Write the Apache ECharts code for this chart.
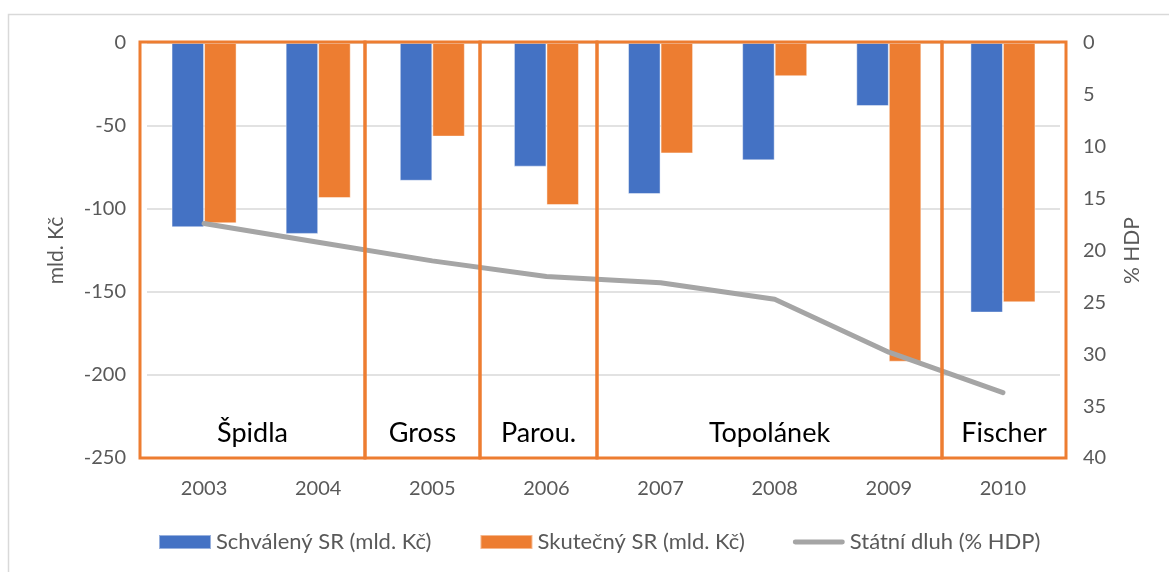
<!DOCTYPE html>
<html>
<head>
<meta charset="utf-8">
<script src="https://cdn.jsdelivr.net/npm/echarts@6/dist/echarts.min.js"></script>
<style>
  html, body { margin: 0; padding: 0; background: #fff; }
  #chart { width: 1169px; height: 572px; }
</style>
</head>
<body>
<div id="chart"></div>
<script>
// years on the category axis
var years = ['2003', '2004', '2005', '2006', '2007', '2008', '2009', '2010'];
// approved and actual state budget balance (bn CZK)
var schvaleny = [-111, -115, -83, -74.5, -91, -70.7, -38, -162.4];
var skutecny = [-108.6, -93.4, -56.4, -97.6, -66.5, -20, -192, -156.2];
// state debt, % of GDP
var dluh = [17.4, 19.2, 21.0, 22.5, 23.1, 24.7, 29.8, 33.7];
// governments (label, box left/right edge in px)
var vlady = ['Špidla', 'Gross', 'Parou.', 'Topolánek', 'Fischer'];
var vladyHrany = [140, 365, 480, 597, 942, 1066];

var FONT = 'Lato, "Open Sans", sans-serif';
var GREY = '#595959';

var chart = echarts.init(document.getElementById('chart'));

function buildGraphic() {
    let items = [{
        type: 'rect',
        shape: { x: 8.5, y: 14.5, width: 1200, height: 600 },
        style: { fill: 'none', stroke: '#D9D9D9', lineWidth: 1.5 },
        z: 0, silent: true
    }];
    for (let i = 0; i < vlady.length; i++) {
        let x0 = vladyHrany[i], x1 = vladyHrany[i + 1];
        items.push({
            type: 'rect',
            shape: { x: x0, y: 42, width: x1 - x0, height: 416 },
            style: { fill: 'none', stroke: '#ED7D31', lineWidth: 3 },
            z: 100, silent: true
        });
        items.push({
            type: 'text',
            x: (x0 + x1) / 2, y: 433,
            style: {
                text: vlady[i], fill: '#000', font: '27px ' + FONT,
                align: 'center', verticalAlign: 'middle'
            },
            z: 101, silent: true
        });
    }
    return items;
}

var option = {
    animation: false,
    backgroundColor: '#fff',
    textStyle: { fontFamily: FONT },
    grid: { left: 147, right: 109, top: 43, bottom: 114 },
    legend: {
        left: 158, top: 531, padding: 0,
        itemWidth: 52, itemHeight: 14, itemGap: 48,
        textStyle: { fontSize: 22, color: GREY, fontFamily: FONT },
        data: [
            { name: 'Schválený SR (mld. Kč)', icon: 'rect' },
            { name: 'Skutečný SR (mld. Kč)', icon: 'rect' },
            { name: 'Státní dluh (% HDP)', icon: 'path://M2,0 L50,0 A2.5,2.5 0 0 1 50,5 L2,5 A2.5,2.5 0 0 1 2,0 Z' }
        ]
    },
    xAxis: {
        type: 'category',
        data: years,
        axisLine: { show: false },
        axisTick: { show: false },
        axisLabel: { fontSize: 20, color: GREY, margin: 21 }
    },
    yAxis: [{
        type: 'value',
        min: -250, max: 0, interval: 50,
        name: 'mld. Kč',
        nameLocation: 'middle', nameGap: 80,
        nameTextStyle: { fontSize: 21, color: GREY },
        axisLine: { show: false },
        axisTick: { show: false },
        axisLabel: { fontSize: 20, color: GREY, margin: 21 },
        splitLine: { lineStyle: { color: '#D9D9D9', width: 1.5 } }
    }, {
        type: 'value',
        inverse: true,
        min: 0, max: 40, interval: 5,
        name: '% HDP',
        nameLocation: 'middle', nameGap: 62,
        nameTextStyle: { fontSize: 21, color: GREY },
        axisLine: { show: false },
        axisTick: { show: false },
        axisLabel: { fontSize: 20, color: GREY, margin: 23 },
        splitLine: { show: false }
    }],
    series: [{
        name: 'Schválený SR (mld. Kč)',
        type: 'bar',
        data: schvaleny,
        barGap: '0%',
        barCategoryGap: '43%',
        itemStyle: { color: '#4472C4', borderColor: 'rgba(255,255,255,0.45)', borderWidth: 1 }
    }, {
        name: 'Skutečný SR (mld. Kč)',
        type: 'bar',
        data: skutecny,
        itemStyle: { color: '#ED7D31', borderColor: 'rgba(255,255,255,0.45)', borderWidth: 1 }
    }, {
        name: 'Státní dluh (% HDP)',
        type: 'line',
        yAxisIndex: 1,
        data: dluh,
        symbol: 'none',
        z: 5,
        itemStyle: { color: '#A5A5A5' },
        lineStyle: { color: '#A5A5A5', width: 5, cap: 'round', join: 'round' }
    }],
    graphic: buildGraphic()
};

chart.setOption(option);
</script>
</body>
</html>
